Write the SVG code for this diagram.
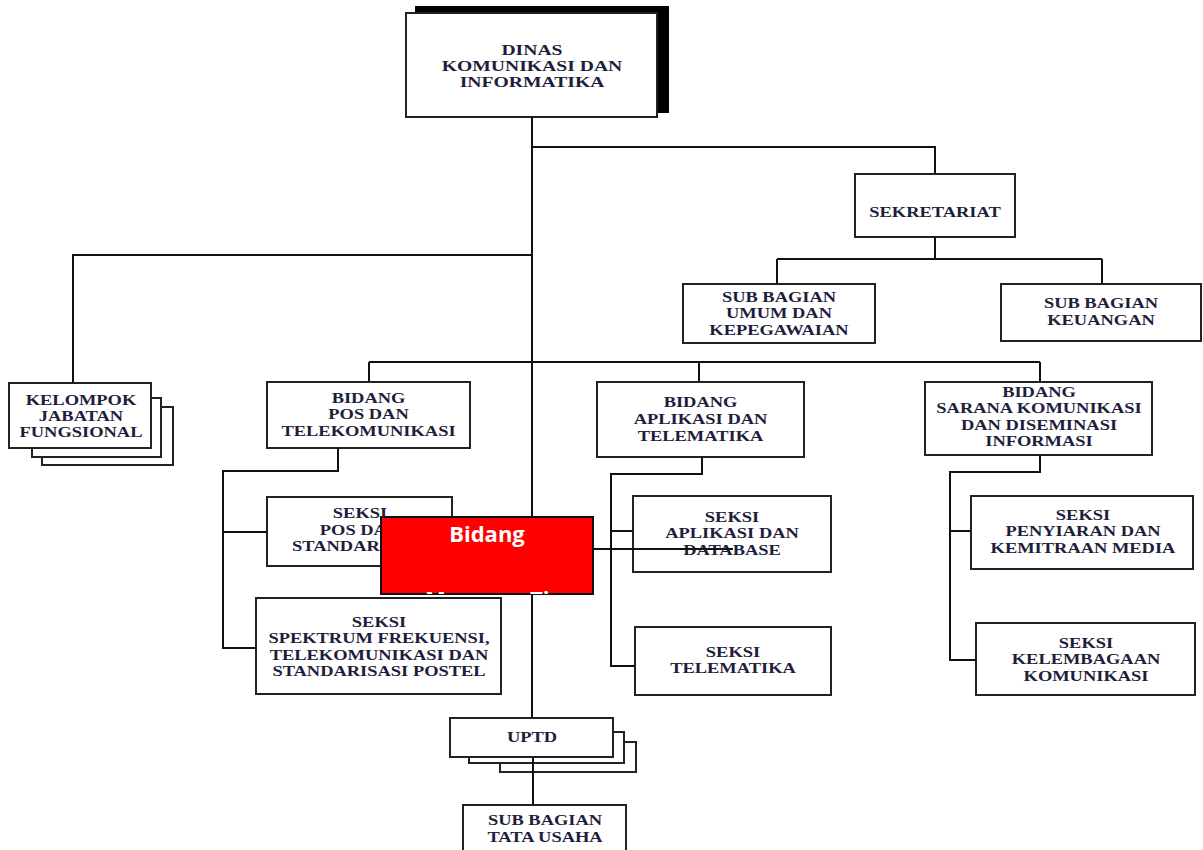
<svg xmlns="http://www.w3.org/2000/svg" width="1203" height="850" viewBox="0 0 1203 850">
<style>
.box{fill:#fff;stroke:#222;stroke-width:2}
.lbl{font-family:"Liberation Serif","Times New Roman",serif;font-weight:bold;font-size:15px;fill:#1e1e3c;text-anchor:middle}
.conn{fill:none;stroke:#111;stroke-width:2}
.red{fill:#ff0000;stroke:#111;stroke-width:2}
.wt{font-family:"Open Sans","Liberation Sans",sans-serif;font-weight:bold;font-size:22px;fill:#fff}
</style>
<defs>
<clipPath id="redclip"><rect x="381" y="517" width="212" height="77"/></clipPath>
</defs>
<rect width="1203" height="850" fill="#fff"/>

<g id="dinas">
<rect x="415" y="6" width="254" height="107" fill="#000"/>
<rect class="box" x="406" y="13" width="251" height="104"/>
<text class="lbl" transform="translate(532 0) scale(1.31 1)"><tspan x="0" y="55">DINAS</tspan><tspan x="0" y="71">KOMUNIKASI DAN</tspan><tspan x="0" y="87">INFORMATIKA</tspan></text>
</g>

<g id="sekretariat">
<rect class="box" x="855" y="174" width="160" height="63"/>
<text class="lbl" transform="translate(935 0) scale(1.23 1)"><tspan x="0" y="217">SEKRETARIAT</tspan></text>
</g>

<g id="sub-umum">
<rect class="box" x="683" y="284" width="192" height="59"/>
<text class="lbl" transform="translate(779 0) scale(1.23 1)"><tspan x="0" y="302">SUB BAGIAN</tspan><tspan x="0" y="318.5">UMUM DAN</tspan><tspan x="0" y="335">KEPEGAWAIAN</tspan></text>
</g>

<g id="sub-keuangan">
<rect class="box" x="1001" y="284" width="200" height="57"/>
<text class="lbl" transform="translate(1101 0) scale(1.23 1)"><tspan x="0" y="308">SUB BAGIAN</tspan><tspan x="0" y="325">KEUANGAN</tspan></text>
</g>

<g id="kelompok">
<rect class="box" x="42" y="407" width="131" height="58"/>
<rect class="box" x="32" y="398" width="129" height="59"/>
<rect class="box" x="9" y="383" width="142" height="65"/>
<text class="lbl" transform="translate(81 0) scale(1.23 1)"><tspan x="0" y="405">KELOMPOK</tspan><tspan x="0" y="421">JABATAN</tspan><tspan x="0" y="437">FUNGSIONAL</tspan></text>
</g>

<g id="bidang-pos">
<rect class="box" x="267" y="382" width="203" height="66"/>
<text class="lbl" transform="translate(368.5 0) scale(1.23 1)"><tspan x="0" y="403">BIDANG</tspan><tspan x="0" y="419.5">POS DAN</tspan><tspan x="0" y="436">TELEKOMUNIKASI</tspan></text>
</g>

<g id="seksi-pos">
<rect class="box" x="267" y="497" width="185" height="69"/>
<text class="lbl" transform="translate(360 0) scale(1.23 1)"><tspan x="0" y="518">SEKSI</tspan><tspan x="0" y="535">POS DAN</tspan><tspan x="0" y="551">STANDARISASI</tspan></text>
</g>

<g id="seksi-spektrum">
<rect class="box" x="256" y="598" width="245" height="96"/>
<text class="lbl" transform="translate(379 0) scale(1.23 1)"><tspan x="0" y="627">SEKSI</tspan><tspan x="0" y="643.5">SPEKTRUM FREKUENSI,</tspan><tspan x="0" y="660">TELEKOMUNIKASI DAN</tspan><tspan x="0" y="676">STANDARISASI POSTEL</tspan></text>
</g>

<g id="bidang-aplikasi">
<rect class="box" x="597" y="382" width="207" height="75"/>
<text class="lbl" transform="translate(700.5 0) scale(1.23 1)"><tspan x="0" y="407">BIDANG</tspan><tspan x="0" y="424">APLIKASI DAN</tspan><tspan x="0" y="441">TELEMATIKA</tspan></text>
</g>

<g id="seksi-aplikasi">
<rect class="box" x="633" y="496" width="198" height="76"/>
<text class="lbl" transform="translate(732 0) scale(1.23 1)"><tspan x="0" y="522">SEKSI</tspan><tspan x="0" y="538.5">APLIKASI DAN</tspan><tspan x="0" y="555">DATABASE</tspan></text>
</g>

<g id="seksi-telematika">
<rect class="box" x="635" y="627" width="196" height="68"/>
<text class="lbl" transform="translate(733 0) scale(1.23 1)"><tspan x="0" y="657">SEKSI</tspan><tspan x="0" y="673">TELEMATIKA</tspan></text>
</g>

<g id="bidang-sarana">
<rect class="box" x="925" y="382" width="227" height="73"/>
<text class="lbl" transform="translate(1039 0) scale(1.23 1)"><tspan x="0" y="397">BIDANG</tspan><tspan x="0" y="413.5">SARANA KOMUNIKASI</tspan><tspan x="0" y="430">DAN DISEMINASI</tspan><tspan x="0" y="446.5">INFORMASI</tspan></text>
</g>

<g id="seksi-penyiaran">
<rect class="box" x="971" y="496" width="222" height="73"/>
<text class="lbl" transform="translate(1083 0) scale(1.23 1)"><tspan x="0" y="520">SEKSI</tspan><tspan x="0" y="536.5">PENYIARAN DAN</tspan><tspan x="0" y="553">KEMITRAAN MEDIA</tspan></text>
</g>

<g id="seksi-kelembagaan">
<rect class="box" x="976" y="623" width="219" height="72"/>
<text class="lbl" transform="translate(1086 0) scale(1.23 1)"><tspan x="0" y="648">SEKSI</tspan><tspan x="0" y="664.5">KELEMBAGAAN</tspan><tspan x="0" y="681">KOMUNIKASI</tspan></text>
</g>

<g id="uptd">
<rect class="box" x="500" y="742" width="136" height="30"/>
<rect class="box" x="469" y="732" width="155" height="31"/>
<rect class="box" x="450" y="718" width="163" height="39"/>
<text class="lbl" transform="translate(532 0) scale(1.23 1)"><tspan x="0" y="742">UPTD</tspan></text>
</g>

<g id="sub-tata-usaha">
<rect class="box" x="463" y="805" width="163" height="50"/>
<text class="lbl" transform="translate(545 0) scale(1.23 1)"><tspan x="0" y="825">SUB BAGIAN</tspan><tspan x="0" y="842">TATA USAHA</tspan></text>
</g>

<g id="connectors">
<path class="conn" d="M532 117 V718"/>
<path class="conn" d="M532 147 H935 V174"/>
<path class="conn" d="M935 237 V259 M777 259 H1102 M777 259 V284 M1102 259 V284"/>
<path class="conn" d="M532 255 H73 V383"/>
<path class="conn" d="M369 362 H1040 M369 362 V382 M699 362 V382 M1040 362 V382"/>
<path class="conn" d="M338 448 V471 H223 V648 H256 M223 532 H267"/>
<path class="conn" d="M702 457 V474 H611 V666 H635 M611 531 H633"/>
<path class="conn" d="M1040 455 V472 H950 V660 H976 M950 531 H971"/>
<path class="conn" d="M533 757 V805"/>
</g>

<g id="bidang-red">
<rect class="red" x="381" y="517" width="212" height="77"/>
<text class="wt" x="487" y="542" text-anchor="middle">Bidang</text>
<g clip-path="url(#redclip)">
<text class="wt" y="607"><tspan x="425">Mana</tspan><tspan x="530">Ti</tspan></text>
</g>
</g>

<g id="overlay-line">
<path class="conn" d="M593 549 H733"/>
</g>
</svg>
